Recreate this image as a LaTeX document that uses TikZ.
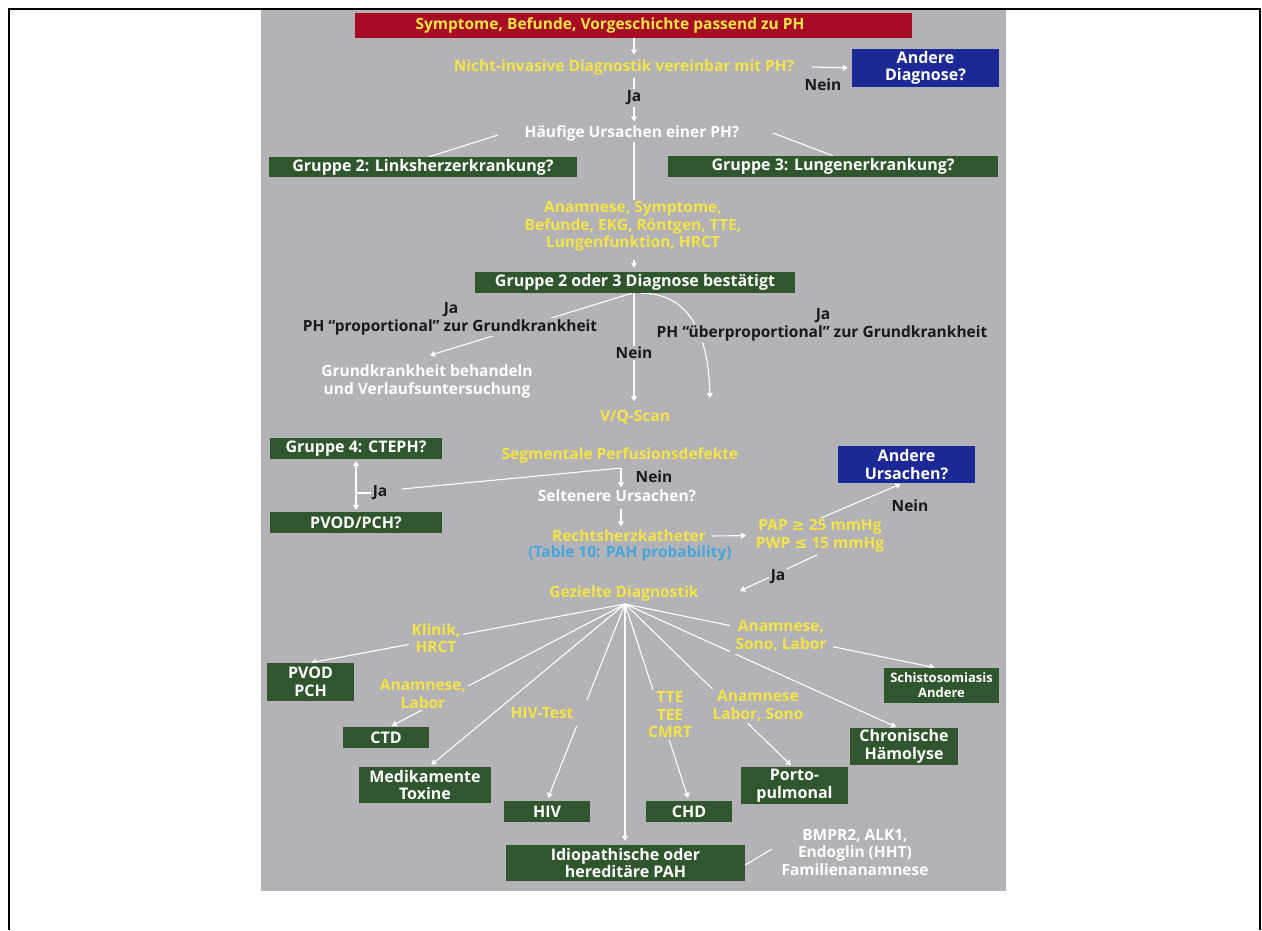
\documentclass[tikz,border=0pt]{standalone}
\usepackage{fontspec}
\setmainfont{Open Sans}
\newfontfamily\symf{DejaVu Sans}
\usetikzlibrary{arrows.meta,calc}
\definecolor{panel}{RGB}{179,178,182}
\definecolor{dgreen}{RGB}{48,86,46}
\definecolor{dred}{RGB}{168,12,36}
\definecolor{dblue}{RGB}{28,40,150}
\definecolor{ylw}{RGB}{245,228,70}
\definecolor{lblue}{RGB}{70,165,220}
\pgfdeclarelayer{bg}
\pgfdeclarelayer{lines}
\pgfsetlayers{bg,lines,main}
\begin{document}
\begin{tikzpicture}[x=1pt,y=-1pt,
  txt/.style={font=\bfseries\fontsize{15.5}{17.5}\selectfont, align=center, inner sep=1.5pt, fill=panel},
  ytx/.style={txt, text=ylw},
  wtx/.style={txt, text=white},
  ktx/.style={txt, text=black!90},
  gbox/.style={fill=dgreen, text=white, font=\bfseries\fontsize{16}{17.5}\selectfont, align=center, inner sep=0pt},
  bbox/.style={gbox, fill=dblue},
  link/.style={draw=white, line width=1.1pt},
  arr/.style={link, -{Triangle[width=6pt,length=5pt]}},
  arr2/.style={link, {Triangle[width=6pt,length=5pt]}-{Triangle[width=6pt,length=5pt]}}]
\useasboundingbox (0,0) rectangle (1262,930);
\begin{pgfonlayer}{bg}
\fill[panel] (261,9) rectangle (1006,891);
\end{pgfonlayer}
\draw[line width=2pt] (9,930) -- (9,9) -- (1260,9) -- (1260,930);

\coordinate (spine) at (634,0);
\node[fill=dred, minimum width=557, minimum height=25, inner sep=0pt] (top) at (633.5,25.5) {};
\node[ytx, fill=none] (toptxt) at (610,25.5) {Symptome, Befunde, Vorgeschichte passend zu PH};
\node[ytx] (nicht) at (624,67) {Nicht-invasive Diagnostik vereinbar mit PH?};
\node[bbox, minimum width=147, minimum height=38] (andD) at (925.5,68) {Andere\\Diagnose?};
\node[ktx] (nein1) at (823,85) {Nein};
\node[ktx] (ja1) at (634,98) {Ja};
\node[wtx] (hauf) at (632,133) {Häufige Ursachen einer PH?};
\node[gbox, minimum width=308, minimum height=20] (g2) at (423,167) {Gruppe 2: Linksherzerkrankung?};
\node[gbox, minimum width=330, minimum height=21] (g3) at (833,166.5) {Gruppe 3: Lungenerkrankung?};
\node[ytx] (anam) at (633,226.5) {Anamnese, Symptome,\\Befunde, EKG, Röntgen, TTE,\\Lungenfunktion, HRCT};
\node[gbox, minimum width=320, minimum height=21] (g23) at (635,282.5) {Gruppe 2 oder 3 Diagnose bestätigt};
\node[ktx] (ja2) at (451,310) {Ja};
\node[ktx] (prop) at (450,327) {PH “proportional” zur Grundkrankheit};
\node[wtx] (grund) at (427,381.5) {Grundkrankheit behandeln\\und Verlaufsuntersuchung};
\node[ktx] (nein2) at (634,353) {Nein};
\node[ktx] (ja3) at (823,316) {Ja};
\node[ktx] (ueber) at (822,333) {PH “überproportional” zur Grundkrankheit};
\node[ytx] (vq) at (635,417) {V/Q-Scan};
\coordinate (cend) at (710,398);
\node[ytx] (seg) at (620,455) {Segmentale Perfusionsdefekte};
\node[gbox, minimum width=172, minimum height=21] (g4) at (356,448.5) {Gruppe 4: CTEPH?};
\node[gbox, minimum width=172, minimum height=21] (pvod1) at (356,522.5) {PVOD/PCH?};
\node[ktx] (ja4) at (380,493) {Ja};
\coordinate (split) at (621,468);
\node[ktx] (nein3) at (654,477) {Nein};
\node[wtx] (selt) at (617,496) {Seltenere Ursachen?};
\node[ytx] (rhk) at (629,536) {Rechtsherzkatheter};
\node[txt, text=lblue] (tab) at (630,553) {(Table 10: PAH probability)};
\node[ytx] (pap) at (820,535.5) {PAP {\symf ≥} 25 mmHg\\PWP {\symf ≤} 15 mmHg};
\node[bbox, minimum width=137, minimum height=37] (andU) at (906.5,464.5) {Andere\\Ursachen?};
\node[ktx] (nein4) at (910,506) {Nein};
\node[ktx] (ja5) at (778,577) {Ja};
\node[ytx] (gez) at (624,593) {Gezielte Diagnostik};
\coordinate (gezin) at (740,591);
\coordinate (hub) at (625,604);

\node[gbox, minimum width=87, minimum height=38] (pvod2) at (310.5,682) {PVOD\\PCH};
\node[ytx, inner sep=3pt] (klinik) at (436,638) {Klinik,\\HRCT};
\node[gbox, minimum width=86, minimum height=21] (ctd) at (386,737.5) {CTD};
\node[ytx] (anlab) at (423,694) {Anamnese,\\Labor};
\node[gbox, minimum width=132, minimum height=36] (med) at (425,785) {Medikamente\\Toxine};
\node[ytx] (hivt) at (542,713) {HIV-Test};
\node[gbox, minimum width=86, minimum height=21] (hiv) at (547,811.5) {HIV};
\node[gbox, minimum width=239, minimum height=36] (idio) at (625.5,863) {Idiopathische oder\\hereditäre PAH};
\node[ytx] (tte) at (670,715) {TTE\\TEE\\CMRT};
\node[gbox, minimum width=86, minimum height=21] (chd) at (689,811.5) {CHD};
\node[ytx] (anls) at (758,706) {Anamnese\\Labor, Sono};
\node[gbox, minimum width=107, minimum height=37] (porto) at (794.5,785.5) {Porto-\\pulmonal};
\node[ytx, inner xsep=6pt, inner ysep=3pt] (asl) at (781,636) {Anamnese,\\Sono, Labor};
\node[gbox, minimum width=115, minimum height=35, font=\bfseries\fontsize{13}{15}\selectfont] (schisto) at (941.5,685.5) {Schistosomiasis\\Andere};
\node[gbox, minimum width=108, minimum height=37] (chron) at (904,746.5) {Chronische\\Hämolyse};
\node[wtx] (bmpr) at (855,852) {BMPR2, ALK1,\\Endoglin (HHT)\\Familienanamnese};

\begin{pgfonlayer}{lines}
\draw[arr, shorten >=3pt] (top.south -| spine) -- (nicht.north -| spine);
\draw[arr, shorten <=2pt, shorten >=2pt] (nicht.south -| spine) -- (hauf.north -| spine);
\draw[arr, shorten >=4pt] ([xshift=16]nicht.east) -- (andD.west);
\draw[link] ([xshift=-25,yshift=-2]hauf.west) -- ([xshift=6]g2.north);
\draw[link] ([xshift=32]hauf.east) -- (g3.north);
\draw[link] (hauf.south -| spine) -- (anam.north -| spine);
\draw[arr, shorten <=7pt, shorten >=4pt] (anam.south -| spine) -- (g23.north -| spine);
\draw[arr] ([xshift=-3]g23.south) -- ([xshift=3,yshift=8]grund.north);
\draw[arr, shorten >=7pt] (g23.south -| spine) -- (vq.north -| spine);
\draw[arr] ([xshift=6]g23.south) .. controls (680,293) and (708,320) .. (cend);
\draw[arr2, shorten <=2pt, shorten >=2pt] (g4.south) -- (pvod1.north);
\draw[link] (g4.south |- ja4) -- (ja4.west);
\draw[link] (split) -- ([xshift=13,yshift=4]ja4.east);
\draw[arr, shorten >=1pt] (split) -- (selt.north -| split);
\draw[arr, shorten <=5pt, shorten >=2pt] (selt.south -| split) -- (rhk.north -| split);
\draw[arr, shorten >=8pt] ([xshift=4]rhk.east) -- (pap.west);
\draw[arr, shorten >=2pt] ([xshift=-5,yshift=-3]pap.north) -- ([xshift=-4]andU.south);
\draw[arr, shorten <=3pt] (pap.south) -- (gezin);
\draw[arr, shorten >=1pt] (hub) -- (pvod2.north);
\draw[arr, shorten >=2pt] (hub) -- ([xshift=4]ctd.north);
\draw[arr, shorten >=3pt] (hub) -- ([xshift=4]med.north);
\draw[link] (hub) -- ($(hub)!0.49!(hiv.north)$);
\draw[arr, shorten >=3pt] ($(hub)!0.62!(hiv.north)$) -- (hiv.north);
\draw[arr, shorten >=4pt] (hub) -- (idio.north -| hub);
\draw[arr, shorten >=3pt] (hub) -- (chd.north);
\draw[arr, shorten >=2pt] (hub) -- ([xshift=-2]porto.north);
\draw[arr, shorten >=2pt] (hub) -- ([xshift=-6]chron.north);
\draw[arr, shorten >=1pt] (hub) -- ([xshift=-6]schisto.north);
\draw[link] ([yshift=-2]idio.east) -- ([xshift=-8,yshift=3]bmpr.west);
\end{pgfonlayer}
\end{tikzpicture}
\end{document}
